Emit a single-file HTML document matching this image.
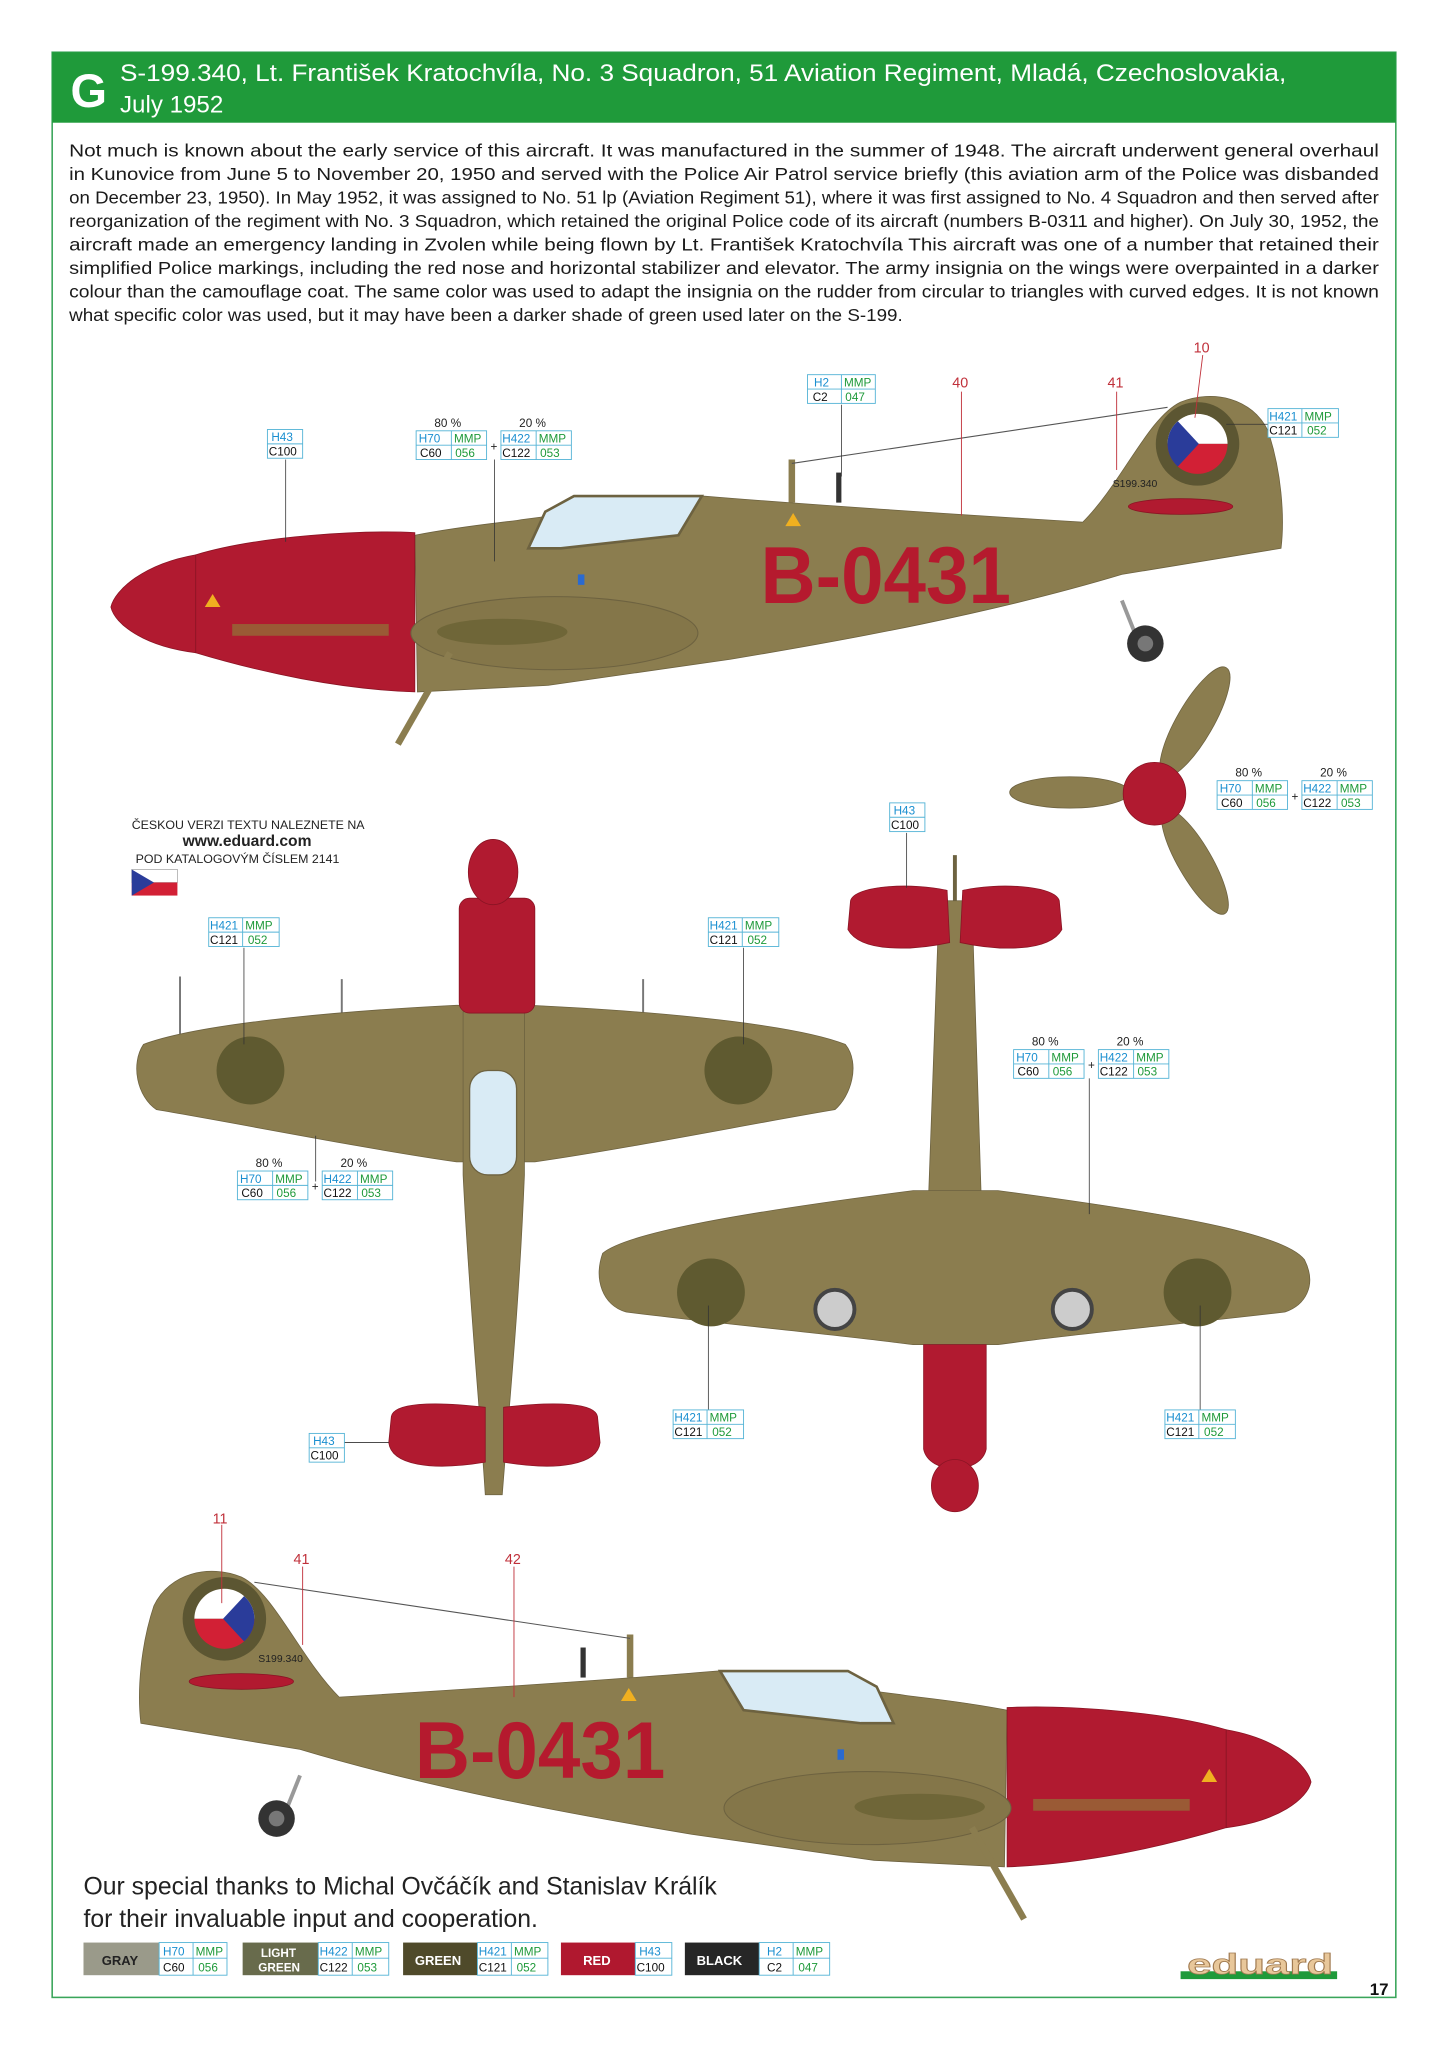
<!DOCTYPE html>
<html><head><meta charset="utf-8"><style>
html,body{margin:0;padding:0;background:#fff}
svg{display:block}
text{font-family:"Liberation Sans",sans-serif}
.p{font-size:13.2px;fill:#1a1a1a}
.b{fill:#fff;stroke:#55b4d6;stroke-width:.7}
.bl{fill:#1a8fd0;font-size:9px}
.gr{fill:#1f9a3a;font-size:9px}
.bk{fill:#111;font-size:9px}
.pc{fill:#222;font-size:9px}
.ld{stroke:#333;stroke-width:.6;fill:none}
.rl{stroke:#c0303a;stroke-width:.7;fill:none}
.rn{fill:#c0303a;font-size:11px}
.kh{fill:#8b7d4f;stroke:#6d6240;stroke-width:.6}
.rd{fill:#b11a30;stroke:#8a1424;stroke-width:.6}
</style></head><body>
<svg width="1448" height="2047" viewBox="0 0 1110 1568" preserveAspectRatio="none" xmlns="http://www.w3.org/2000/svg">
<defs>
<clipPath id="ins"><circle cx="918" cy="340" r="23"/></clipPath>
<g id="side">
 <path class="kh" d="M318,410 C360,402 390,400 400,398 L540,380 C600,385 700,392 830,400 C860,370 880,320 905,308 C930,298 960,305 972,330 C982,360 985,395 982,420 L860,440 C760,470 650,490 560,505 L420,525 L320,530 Z"/>
 <path fill="#d9ebf5" stroke="#6d6240" stroke-width="2" d="M405,420 L418,392 L440,380 L538,380 L520,410 L430,420 Z"/>
 <path class="rd" d="M150,425 C200,410 280,406 318,408 L318,530 C260,528 200,515 150,500 Z"/>
 <path class="rd" d="M150,425 C110,432 88,452 85,465 C88,478 110,495 150,500 Z"/>
 <ellipse cx="425" cy="485" rx="110" ry="28" fill="#847649" stroke="#6d6240" stroke-width=".8"/>
 <ellipse cx="385" cy="484" rx="50" ry="10" fill="#6f6638"/>
 <rect x="178" y="478" width="120" height="9" fill="#9a5a35"/>
 <line x1="345" y1="500" x2="305" y2="570" stroke="#8b7d4f" stroke-width="5"/>
 <line x1="607" y1="385" x2="607" y2="352" stroke="#8b7d4f" stroke-width="5"/>
 <line x1="643" y1="385" x2="643" y2="362" stroke="#333" stroke-width="4"/>
 <line x1="607" y1="355" x2="895" y2="312" stroke="#555" stroke-width=".8"/>
 <circle cx="918" cy="340" r="32" fill="#5c5632"/>
 <g clip-path="url(#ins)">
  <rect x="890" y="310" width="60" height="30" fill="#fff"/>
  <rect x="890" y="340" width="60" height="30" fill="#d22035"/>
  <polygon points="893,312 919,340 893,368" fill="#2a3c9a"/>
 </g>
 <ellipse cx="905" cy="388" rx="40" ry="6" class="rd"/>
 <line x1="860" y1="460" x2="872" y2="490" stroke="#999" stroke-width="3"/>
 <circle cx="878" cy="493" r="14" fill="#333"/><circle cx="878" cy="493" r="6" fill="#777"/>
 <polygon points="608,393 602,403 614,403" fill="#f0b020"/>
 <polygon points="163,455 157,465 169,465" fill="#f0b020"/>
 <rect x="443" y="440" width="5" height="8" fill="#2a6ad0"/>
</g>
</defs>
<rect x="40" y="40" width="1030" height="1490" fill="#fff" stroke="#3aa55a" stroke-width="1.2"/>
<rect x="40" y="40" width="1030" height="54" fill="#1f9a3a"/>
<text x="54" y="82" font-size="36" font-weight="bold" fill="#fff">G</text>
<text x="92" y="62" font-size="18.5" fill="#fff" textLength="894" lengthAdjust="spacingAndGlyphs">S-199.340, Lt. František Kratochvíla, No. 3 Squadron, 51 Aviation Regiment, Mladá, Czechoslovakia,</text>
<text x="92" y="86" font-size="18.5" fill="#fff">July 1952</text>
<g class="p">
<text x="53" y="120" textLength="1004" lengthAdjust="spacingAndGlyphs">Not much is known about the early service of this aircraft. It was manufactured in the summer of 1948. The aircraft underwent general overhaul</text>
<text x="53" y="138" textLength="1004" lengthAdjust="spacingAndGlyphs">in Kunovice from June 5 to November 20, 1950 and served with the Police Air Patrol service briefly (this aviation arm of the Police was disbanded</text>
<text x="53" y="156" textLength="1004" lengthAdjust="spacingAndGlyphs">on December 23, 1950). In May 1952, it was assigned to No. 51 lp (Aviation Regiment 51), where it was first assigned to No. 4 Squadron and then served after</text>
<text x="53" y="174" textLength="1004" lengthAdjust="spacingAndGlyphs">reorganization of the regiment with No. 3 Squadron, which retained the original Police code of its aircraft (numbers B-0311 and higher). On July 30, 1952, the</text>
<text x="53" y="192" textLength="1004" lengthAdjust="spacingAndGlyphs">aircraft made an emergency landing in Zvolen while being flown by Lt. František Kratochvíla This aircraft was one of a number that retained their</text>
<text x="53" y="210" textLength="1004" lengthAdjust="spacingAndGlyphs">simplified Police markings, including the red nose and horizontal stabilizer and elevator. The army insignia on the wings were overpainted in a darker</text>
<text x="53" y="228" textLength="1004" lengthAdjust="spacingAndGlyphs">colour than the camouflage coat. The same color was used to adapt the insignia on the rudder from circular to triangles with curved edges. It is not known</text>
<text x="53" y="246" textLength="639" lengthAdjust="spacingAndGlyphs">what specific color was used, but it may have been a darker shade of green used later on the S-199.</text>
</g>

<use href="#side"/>
<text x="583" y="462" font-size="62" font-weight="bold" fill="#b51a2e" textLength="192" lengthAdjust="spacingAndGlyphs">B-0431</text>
<text x="853" y="373" font-size="8" fill="#222">S199.340</text>

<g transform="translate(1090,900) scale(-1,1)"><use href="#side"/></g>
<text x="318" y="1362" font-size="62" font-weight="bold" fill="#b51a2e" textLength="192" lengthAdjust="spacingAndGlyphs">B-0431</text>
<text x="198" y="1273" font-size="8" fill="#222">S199.340</text>

<ellipse cx="916" cy="553" rx="14" ry="48" transform="rotate(30 916 553)" class="kh"/>
<ellipse cx="820" cy="607" rx="46" ry="12" class="kh"/>
<ellipse cx="916" cy="660" rx="13" ry="46" transform="rotate(-30 916 660)" class="kh"/>
<circle cx="885" cy="608" r="24" class="rd"/>

<line x1="138" y1="748" x2="138" y2="792" stroke="#777" stroke-width="1.5"/>
<line x1="262" y1="750" x2="262" y2="778" stroke="#777" stroke-width="1.5"/>
<line x1="493" y1="750" x2="493" y2="778" stroke="#777" stroke-width="1.5"/>
<path class="kh" d="M110,800 C150,785 250,775 350,770 L406,770 C510,775 610,785 648,800 C660,815 652,840 640,850 C580,860 480,880 410,890 L350,890 C280,880 180,860 120,850 C105,840 100,815 110,800 Z"/>
<path class="kh" d="M355,775 L355,900 C360,1000 368,1080 372,1145 L385,1145 C390,1080 398,1000 402,900 L402,775 Z"/>
<path class="rd" d="M300,1085 C302,1075 330,1073 372,1078 L372,1120 C330,1127 300,1122 298,1105 Z"/>
<path class="rd" d="M458,1085 C456,1075 428,1073 386,1078 L386,1120 C428,1127 458,1122 460,1105 Z"/>
<rect x="352" y="688" width="58" height="88" rx="8" class="rd"/>
<ellipse cx="378" cy="668" rx="19" ry="25" class="rd"/>
<rect x="360" y="820" width="36" height="80" rx="14" fill="#d9ebf5" stroke="#6d6240"/>
<circle cx="192" cy="820" r="26" fill="#5f5a30"/>
<circle cx="566" cy="820" r="26" fill="#5f5a30"/>

<line x1="732" y1="655" x2="732" y2="700" stroke="#6d6240" stroke-width="3"/>
<path class="kh" d="M720,690 L712,912 L712,1030 L752,1030 L752,912 L745,690 Z"/>
<path class="rd" d="M652,690 C655,678 700,676 726,682 L728,722 C700,728 660,730 650,712 Z"/>
<path class="rd" d="M812,690 C809,678 764,676 738,682 L736,722 C764,728 804,730 814,712 Z"/>
<path class="kh" d="M462,960 C480,945 560,930 700,912 L765,912 C900,930 985,945 1000,965 C1010,985 1000,1000 985,1005 C900,1015 820,1022 765,1030 L700,1030 C640,1022 560,1015 480,1005 C462,1000 455,980 462,960 Z"/>
<circle cx="545" cy="990" r="26" fill="#5f5a30"/>
<circle cx="918" cy="990" r="26" fill="#5f5a30"/>
<circle cx="640" cy="1003" r="15" fill="#ccc" stroke="#444" stroke-width="3"/>
<circle cx="822" cy="1003" r="15" fill="#ccc" stroke="#444" stroke-width="3"/>
<path class="rd" d="M708,1030 L708,1110 C712,1130 752,1130 756,1110 L756,1030 Z"/>
<ellipse cx="732" cy="1138" rx="18" ry="20" class="rd"/>

<text x="101" y="635" font-size="9.5" fill="#222">ČESKOU VERZI TEXTU NALEZNETE NA</text>
<text x="140" y="648" font-size="12" font-weight="bold" fill="#222">www.eduard.com</text>
<text x="104" y="661" font-size="9.5" fill="#222">POD KATALOGOVÝM ČÍSLEM 2141</text>
<rect x="101" y="666" width="35" height="10" fill="#fff" stroke="#999" stroke-width=".5"/>
<rect x="101" y="676" width="35" height="10" fill="#d22035"/>
<polygon points="101,666 118,676 101,686" fill="#2a3c9a"/>

<g class="ld">
<line x1="219" y1="352" x2="219" y2="415"/>
<line x1="379" y1="352" x2="379" y2="430"/>
<line x1="645" y1="310" x2="645" y2="365"/>
<line x1="972" y1="325" x2="940" y2="325"/>
<line x1="187" y1="726" x2="187" y2="800"/>
<line x1="570" y1="726" x2="570" y2="800"/>
<line x1="242" y1="870" x2="242" y2="905"/>
<line x1="264" y1="1105" x2="298" y2="1105"/>
<line x1="695" y1="638" x2="695" y2="680"/>
<line x1="835" y1="826" x2="835" y2="930"/>
<line x1="543" y1="1080" x2="543" y2="1000"/>
<line x1="920" y1="1080" x2="920" y2="1000"/>
</g>
<g class="rl">
<line x1="737" y1="300" x2="737" y2="395"/>
<line x1="856" y1="300" x2="856" y2="360"/>
<line x1="922" y1="272" x2="916" y2="320"/>
<line x1="170" y1="1168" x2="170" y2="1228"/>
<line x1="232" y1="1200" x2="232" y2="1260"/>
<line x1="394" y1="1200" x2="394" y2="1300"/>
</g>
<text class="rn" x="730" y="297">40</text>
<text class="rn" x="849" y="297">41</text>
<text class="rn" x="915" y="270">10</text>
<text class="rn" x="163" y="1167">11</text>
<text class="rn" x="225" y="1198">41</text>
<text class="rn" x="387" y="1198">42</text>

<g>
<rect class="b" x="205" y="329" width="27" height="22"/><line x1="205" y1="340" x2="232" y2="340" stroke="#55b4d6" stroke-width=".7"/>
<text class="bl" x="208" y="338">H43</text><text class="bk" x="206" y="349">C100</text>
<rect class="b" x="682" y="615" width="27" height="22"/><line x1="682" y1="626" x2="709" y2="626" stroke="#55b4d6" stroke-width=".7"/>
<text class="bl" x="685" y="624">H43</text><text class="bk" x="683" y="635">C100</text>
<rect class="b" x="237" y="1098" width="27" height="22"/><line x1="237" y1="1109" x2="264" y2="1109" stroke="#55b4d6" stroke-width=".7"/>
<text class="bl" x="240" y="1107">H43</text><text class="bk" x="238" y="1118">C100</text>
</g>
<g>
<rect class="b" x="619" y="287" width="52" height="22"/><path d="M619,298 H671 M645,287 V309" stroke="#55b4d6" stroke-width=".7"/>
<text class="bl" x="624" y="296">H2</text><text class="gr" x="647" y="296">MMP</text><text class="bk" x="623" y="307">C2</text><text class="gr" x="648" y="307">047</text>

<rect class="b" x="972" y="313" width="54" height="22"/><path d="M972,324 H1026 M998,313 V335" stroke="#55b4d6" stroke-width=".7"/>
<text class="bl" x="973" y="322">H421</text><text class="gr" x="1000" y="322">MMP</text><text class="bk" x="973" y="333">C121</text><text class="gr" x="1002" y="333">052</text>

<rect class="b" x="160" y="703" width="54" height="22"/><path d="M160,714 H214 M186,703 V725" stroke="#55b4d6" stroke-width=".7"/>
<text class="bl" x="161" y="712">H421</text><text class="gr" x="188" y="712">MMP</text><text class="bk" x="161" y="723">C121</text><text class="gr" x="190" y="723">052</text>

<rect class="b" x="543" y="703" width="54" height="22"/><path d="M543,714 H597 M569,703 V725" stroke="#55b4d6" stroke-width=".7"/>
<text class="bl" x="544" y="712">H421</text><text class="gr" x="571" y="712">MMP</text><text class="bk" x="544" y="723">C121</text><text class="gr" x="573" y="723">052</text>

<rect class="b" x="516" y="1080" width="54" height="22"/><path d="M516,1091 H570 M542,1080 V1102" stroke="#55b4d6" stroke-width=".7"/>
<text class="bl" x="517" y="1089">H421</text><text class="gr" x="544" y="1089">MMP</text><text class="bk" x="517" y="1100">C121</text><text class="gr" x="546" y="1100">052</text>

<rect class="b" x="893" y="1080" width="54" height="22"/><path d="M893,1091 H947 M919,1080 V1102" stroke="#55b4d6" stroke-width=".7"/>
<text class="bl" x="894" y="1089">H421</text><text class="gr" x="921" y="1089">MMP</text><text class="bk" x="894" y="1100">C121</text><text class="gr" x="923" y="1100">052</text>
</g>

<g id="pair1">
<text class="pc" x="333" y="327">80 %</text><text class="pc" x="398" y="327">20 %</text>
<rect class="b" x="319" y="330" width="54" height="22"/><path d="M319,341 H373 M346,330 V352" stroke="#55b4d6" stroke-width=".7"/>
<text class="bl" x="321" y="339">H70</text><text class="gr" x="348" y="339">MMP</text><text class="bk" x="322" y="350">C60</text><text class="gr" x="349" y="350">056</text>
<text class="pc" x="376" y="345">+</text>
<rect class="b" x="384" y="330" width="54" height="22"/><path d="M384,341 H438 M411,330 V352" stroke="#55b4d6" stroke-width=".7"/>
<text class="bl" x="385" y="339">H422</text><text class="gr" x="413" y="339">MMP</text><text class="bk" x="385" y="350">C122</text><text class="gr" x="414" y="350">053</text>
</g>
<use href="#pair1" transform="translate(614,268)"/>
<use href="#pair1" transform="translate(-137,567)"/>
<use href="#pair1" transform="translate(458,474)"/>

<text x="64" y="1451" font-size="19" fill="#222">Our special thanks to Michal Ovčáčík and Stanislav Králík</text>
<text x="64" y="1476" font-size="19" fill="#222">for their invaluable input and cooperation.</text>

<g font-size="10" font-weight="bold">
<rect x="64" y="1488" width="58" height="25" fill="#9a9a8a"/><text x="78" y="1505" fill="#222">GRAY</text>
<rect class="b" x="122" y="1488" width="52" height="25"/><path d="M122,1500 H174 M148,1488 V1513" stroke="#55b4d6" stroke-width=".7"/>
<text class="bl" x="125" y="1498" font-weight="normal">H70</text><text class="gr" x="150" y="1498" font-weight="normal">MMP</text><text class="bk" x="125" y="1510" font-weight="normal">C60</text><text class="gr" x="152" y="1510" font-weight="normal">056</text>

<rect x="186" y="1488" width="58" height="25" fill="#686b4c"/><text x="200" y="1499" fill="#fff" font-size="9">LIGHT</text><text x="198" y="1510" fill="#fff" font-size="9">GREEN</text>
<rect class="b" x="244" y="1488" width="54" height="25"/><path d="M244,1500 H298 M270,1488 V1513" stroke="#55b4d6" stroke-width=".7"/>
<text class="bl" x="245" y="1498" font-weight="normal">H422</text><text class="gr" x="272" y="1498" font-weight="normal">MMP</text><text class="bk" x="245" y="1510" font-weight="normal">C122</text><text class="gr" x="274" y="1510" font-weight="normal">053</text>

<rect x="309" y="1488" width="57" height="25" fill="#4f4a2a"/><text x="318" y="1505" fill="#fff">GREEN</text>
<rect class="b" x="366" y="1488" width="54" height="25"/><path d="M366,1500 H420 M392,1488 V1513" stroke="#55b4d6" stroke-width=".7"/>
<text class="bl" x="367" y="1498" font-weight="normal">H421</text><text class="gr" x="394" y="1498" font-weight="normal">MMP</text><text class="bk" x="367" y="1510" font-weight="normal">C121</text><text class="gr" x="396" y="1510" font-weight="normal">052</text>

<rect x="430" y="1488" width="57" height="25" fill="#b0182f"/><text x="447" y="1505" fill="#fff">RED</text>
<rect class="b" x="487" y="1488" width="28" height="25"/><path d="M487,1500 H515" stroke="#55b4d6" stroke-width=".7"/>
<text class="bl" x="490" y="1498" font-weight="normal">H43</text><text class="bk" x="488" y="1510" font-weight="normal">C100</text>

<rect x="525" y="1488" width="57" height="25" fill="#262626"/><text x="534" y="1505" fill="#fff">BLACK</text>
<rect class="b" x="582" y="1488" width="54" height="25"/><path d="M582,1500 H636 M608,1488 V1513" stroke="#55b4d6" stroke-width=".7"/>
<text class="bl" x="588" y="1498" font-weight="normal">H2</text><text class="gr" x="610" y="1498" font-weight="normal">MMP</text><text class="bk" x="588" y="1510" font-weight="normal">C2</text><text class="gr" x="612" y="1510" font-weight="normal">047</text>
</g>

<rect x="905" y="1510" width="120" height="6" fill="#1f9a3a"/>
<text x="910" y="1512" font-size="22" font-weight="bold" fill="#e8c79a" stroke="#a07a50" stroke-width=".6" textLength="112" lengthAdjust="spacingAndGlyphs">eduard</text>
<text x="1050" y="1528" font-size="13" font-weight="bold" fill="#111">17</text>
</svg>
</body></html>
